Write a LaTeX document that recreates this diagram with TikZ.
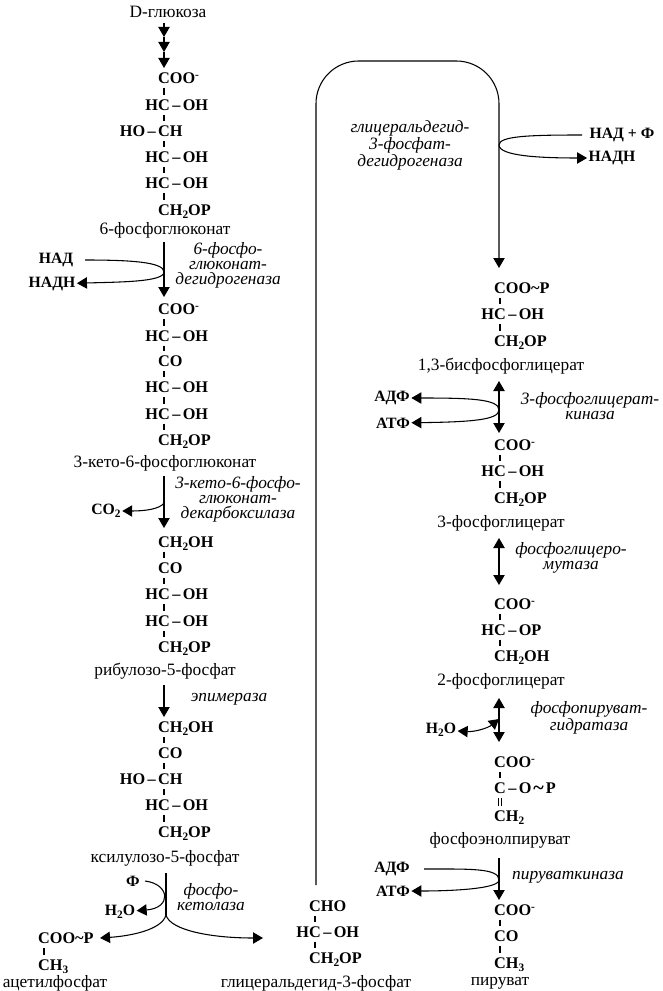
\documentclass[tikz,border=0pt]{standalone}
\usepackage{fontspec}
\setmainfont{Liberation Serif}
\usetikzlibrary{arrows.meta}

\tikzset{
  chem/.style={font=\fontsize{12.2}{12.2}\bfseries\selectfont,inner xsep=0pt,inner ysep=3pt,text height=8pt,text depth=0pt},
  agent/.style={font=\fontsize{11.8}{11.8}\bfseries\selectfont,inner sep=1pt},
  lbl/.style={font=\fontsize{13}{13}\selectfont,inner sep=1pt},
  enz/.style={font=\fontsize{13}{11.25}\itshape\selectfont,inner sep=1pt,align=center},
  bond/.style={line width=1pt},
  rx/.style={line width=0.8pt,-{Triangle[length=7.5pt,width=8.5pt]}},
  rxx/.style={line width=0.8pt,{Triangle[length=7.5pt,width=8.5pt]}-{Triangle[length=7.5pt,width=8.5pt]}},
  ln/.style={line width=0.8pt}
}
\newcommand{\sbs}[1]{\raisebox{-2.5pt}{\fontsize{8.5}{8.5}\selectfont #1}}
\newcommand{\cminus}{\raisebox{3.5pt}{\fontsize{8.5}{8.5}\selectfont -}}
\newcommand{\dsh}{\kern1.8pt--\kern1.8pt}
\newcommand{\coo}{C\rlap{OO\cminus}}
\newcommand{\hcoh}{\llap{H}C\rlap{\dsh OH}}
\newcommand{\hoch}{\llap{HO\dsh}C\rlap{H}}
\newcommand{\chop}{C\rlap{H\sbs{2}OP}}
\newcommand{\choh}{C\rlap{H\sbs{2}OH}}
\newcommand{\cthree}{C\rlap{H\sbs{3}}}

\begin{document}
\begin{tikzpicture}[x=0.75pt,y=-0.75pt]
\useasboundingbox (0,0) rectangle (662,991);

% glucose column
\node[lbl] (glc) at (168,12) {D-глюкоза};
\coordinate (s0) at (164,23);
\coordinate (s1) at (164,37);
\coordinate (s2) at (164,52);
\coordinate (s3) at (164,68);
\draw[rx] (s0) -- (s1);
\draw[rx] (s1) -- (s2);
\draw[rx] (s2) -- (s3);
\node[chem] (a1) at (164,78) {\coo};
\node[chem] (a2) at (164,105) {\hcoh};
\node[chem] (a3) at (164,131) {\hoch};
\node[chem] (a4) at (164,157) {\hcoh};
\node[chem] (a5) at (164,183) {\hcoh};
\node[chem] (a6) at (164,210) {\chop};
\draw[bond] (a1) -- (a2);
\draw[bond] (a2) -- (a3);
\draw[bond] (a3) -- (a4);
\draw[bond] (a4) -- (a5);
\draw[bond] (a5) -- (a6);
\node[lbl] (pg) at (165,230) {6-фосфоглюконат};

% step 1
\coordinate (t1) at (164,242);
\coordinate (t2) at (164,297);
\coordinate (t3) at (164,272);
\draw[rx] (t1) -- (t2);
\node[agent] (nad1) at (56,260) {НАД};
\node[agent] (nadh1) at (52,284) {НАДН};
\draw[ln] (85,260) .. controls (130,260) and (164,262) .. (t3);
\draw[rx] (t3) .. controls (164,282) and (120,282) .. (nadh1);
\node[enz] (e1) at (228,265) {6-фосфо-\\глюконат-\\дегидрогеназа};

% second formula
\node[chem] (b1) at (164,309) {\coo};
\node[chem] (b2) at (164,336) {\hcoh};
\node[chem] (b3) at (164,361) {C\rlap{O}};
\node[chem] (b4) at (164,387) {\hcoh};
\node[chem] (b5) at (164,414) {\hcoh};
\node[chem] (b6) at (164,440) {\chop};
\draw[bond] (b1) -- (b2);
\draw[bond] (b2) -- (b3);
\draw[bond] (b3) -- (b4);
\draw[bond] (b4) -- (b5);
\draw[bond] (b5) -- (b6);
\node[lbl] (kpg) at (165,463) {3-кето-6-фосфоглюконат};

% step 2
\coordinate (u1) at (164,476);
\coordinate (u2) at (164,528);
\coordinate (u3) at (164,503);
\draw[rx] (u1) -- (u2);
\node[agent] (co2) at (106,511) {CO\sbs{2}};
\draw[rx] (u3) .. controls (160,509) and (145,511) .. (co2);
\node[enz] (e2) at (238,499) {3-кето-6-фосфо-\\глюконат-\\декарбоксилаза};

% ribulose
\node[chem] (c1) at (164,542) {\choh};
\node[chem] (c2) at (164,568) {C\rlap{O}};
\node[chem] (c3) at (164,594) {\hcoh};
\node[chem] (c4) at (164,621) {\hcoh};
\node[chem] (c5) at (164,647) {\chop};
\draw[bond] (c1) -- (c2);
\draw[bond] (c2) -- (c3);
\draw[bond] (c3) -- (c4);
\draw[bond] (c4) -- (c5);
\node[lbl] (rib) at (165,671) {рибулозо-5-фосфат};

% epimerase
\coordinate (v1) at (164,685);
\coordinate (v2) at (164,717);
\draw[rx] (v1) -- (v2);
\node[enz] (e3) at (229,699) {эпимераза};

% xylulose
\node[chem] (d1) at (164,727) {\choh};
\node[chem] (d2) at (164,753) {C\rlap{O}};
\node[chem] (d3) at (164,779) {\hoch};
\node[chem] (d4) at (164,805) {\hcoh};
\node[chem] (d5) at (164,832) {\chop};
\draw[bond] (d1) -- (d2);
\draw[bond] (d2) -- (d3);
\draw[bond] (d3) -- (d4);
\draw[bond] (d4) -- (d5);
\node[lbl] (xyl) at (165,858) {ксилулозо-5-фосфат};

% phosphoketolase
\coordinate (w1) at (166,873);
\coordinate (w2) at (166,915);
\coordinate (w3) at (145,881);
\coordinate (w4) at (263,938);
\draw[ln] (w1) -- (w2);
\node[agent] (pi) at (133,881) {Ф};
\node[agent] (wat1) at (120,912) {H\sbs{2}O};
\draw[rx] (w3) .. controls (170,884) and (172,908) .. (wat1);
\node[enz] (e4) at (211,897) {фосфо-\\кетолаза};
\node[chem] (f1) at (44,938) {C\rlap{OO\textasciitilde P}};
\node[chem] (f2) at (44,965) {\cthree};
\draw[bond] (f1) -- (f2);
\node[lbl] (acp) at (55,983) {ацетилфосфат};
\draw[rx] (w2) .. controls (162,930) and (130,936) .. (100,938);
\draw[rx] (w2) .. controls (170,930) and (210,938) .. (w4);

% glyceraldehyde
\node[chem] (g1) at (315,906) {C\rlap{HO}};
\node[chem] (g2) at (315,932) {\hcoh};
\node[chem] (g3) at (315,958) {\chop};
\draw[bond] (g1) -- (g2);
\draw[bond] (g2) -- (g3);
\node[lbl] (gap) at (316,983) {глицеральдегид-3-фосфат};

% long way round
\coordinate (h1) at (316,885);
\coordinate (h2) at (316,61);
\coordinate (h3) at (499,61);
\coordinate (h4) at (499,268);
\coordinate (h5) at (499,145);
\draw[rx,rounded corners=32pt] (h1) -- (h2) -- (h3) -- (h4);
\node[enz] (e5) at (410,145) {глицеральдегид-\\3-фосфат-\\дегидрогеназа};
\node[agent] (nad2) at (622,135) {НАД + Ф};
\node[agent] (nadh2) at (612,158) {НАДН};
\draw[ln] (582,135) .. controls (530,135) and (499,136) .. (h5);
\draw[rx] (h5) .. controls (499,156) and (540,158) .. (nadh2);

% bisphosphoglycerate
\node[chem] (i1) at (500,288) {C\rlap{OO\textasciitilde P}};
\node[chem] (i2) at (500,314) {\hcoh};
\node[chem] (i3) at (500,341) {\chop};
\draw[bond] (i1) -- (i2);
\draw[bond] (i2) -- (i3);
\node[lbl] (bpg) at (501,366) {1,3-бисфосфоглицерат};

% kinase
\coordinate (j1) at (499,381);
\coordinate (j2) at (499,433);
\coordinate (j3) at (499,410);
\draw[rxx] (j1) -- (j2);
\node[agent] (adp1) at (392,398) {АДФ};
\node[agent] (atp1) at (393,423) {АТФ};
\draw[rx] (j3) .. controls (499,399) and (470,398) .. (adp1);
\draw[rx] (j3) .. controls (499,420) and (470,422) .. (atp1);
\node[enz] (e6) at (590,406) {3-фосфоглицерат-\\киназа};

\node[chem] (k1) at (500,445) {\coo};
\node[chem] (k2) at (500,471) {\hcoh};
\node[chem] (k3) at (500,498) {\chop};
\draw[bond] (k1) -- (k2);
\draw[bond] (k2) -- (k3);
\node[lbl] (pg3) at (501,523) {3-фосфоглицерат};

% mutase
\coordinate (l1) at (499,538);
\coordinate (l2) at (499,585);
\draw[rxx] (l1) -- (l2);
\node[enz] (e7) at (571,558) {фосфоглицеро-\\мутаза};

\node[chem] (m1) at (500,604) {\coo};
\node[chem] (m2) at (500,630) {\llap{H}C\rlap{\dsh OP}};
\node[chem] (m3) at (500,656) {\choh};
\draw[bond] (m1) -- (m2);
\draw[bond] (m2) -- (m3);
\node[lbl] (pg2) at (501,681) {2-фосфоглицерат};

% enolase
\coordinate (o1) at (499,698);
\coordinate (o2) at (499,742);
\coordinate (o3) at (499,719);
\draw[rxx] (o1) -- (o2);
\node[agent] (wat2) at (441,730) {H\sbs{2}O};
\draw[rxx] (o3) .. controls (488,728) and (475,732) .. (wat2);
\node[enz] (e8) at (589,718) {фосфопируват-\\гидратаза};

\node[chem] (n1) at (500,762) {\coo};
\node[chem] (n2) at (500,788) {C\rlap{\dsh O\kern1.5pt\raisebox{-1pt}{\fontsize{15}{15}\selectfont\textasciitilde}\kern1.5pt P}};
\node[chem] (n3) at (500,816) {C\rlap{H\sbs{2}}};
\draw[bond] (n1) -- (n2);
\draw[bond,double,double distance=1.2pt,line width=0.6pt] (n2) -- (n3);
\node[lbl] (pep) at (500,840) {фосфоэнолпируват};

% pyruvate kinase
\coordinate (q1) at (499,858);
\coordinate (q2) at (499,900);
\coordinate (q3) at (499,880);
\draw[rx] (q1) -- (q2);
\node[agent] (adp2) at (392,869) {АДФ};
\node[agent] (atp2) at (393,891) {АТФ};
\draw[ln] (424,869) .. controls (470,869) and (499,868) .. (q3);
\draw[rx] (q3) .. controls (499,889) and (450,891) .. (atp2);
\node[enz] (e9) at (568,877) {пируваткиназа};

\node[chem] (r1) at (500,910) {\coo};
\node[chem] (r2) at (500,936) {C\rlap{O}};
\node[chem] (r3) at (500,963) {\cthree};
\draw[bond] (r1) -- (r2);
\draw[bond] (r2) -- (r3);
\node[lbl] (pyr) at (500,983) {пируват};
\end{tikzpicture}
\end{document}
